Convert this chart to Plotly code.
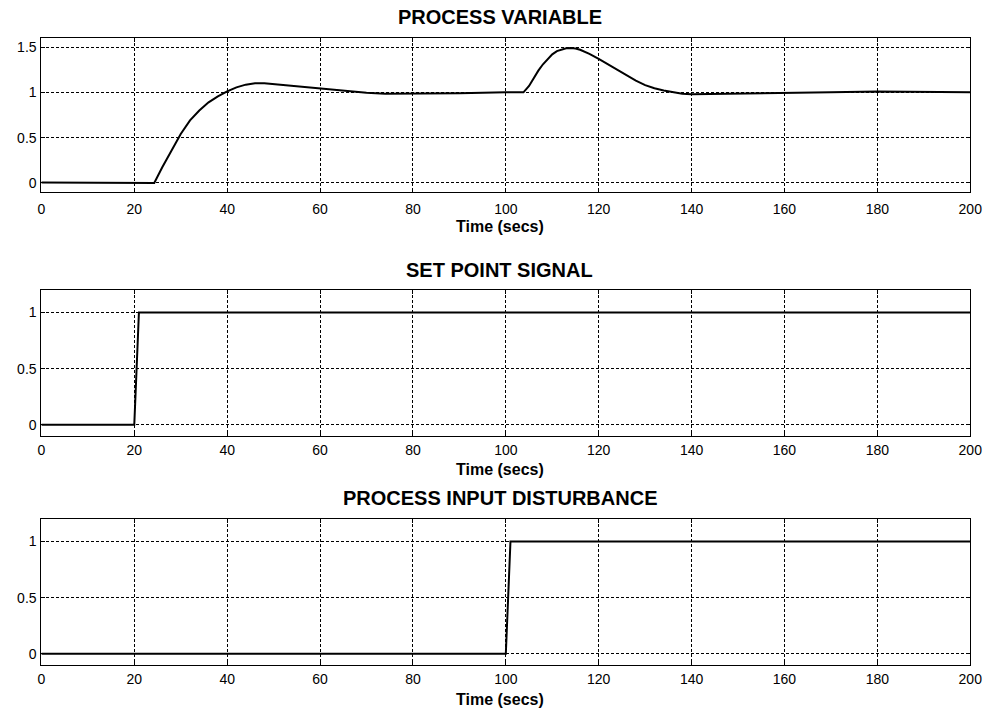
import plotly.graph_objects as go

W, H = 997, 708

# Process variable response (closed loop): set-point step at 20 s, input disturbance at 100 s
pv_time = [0, 10, 20, 24.3, 26, 28, 30, 32, 34, 36, 38, 40, 42, 44, 46, 48, 50, 54, 58, 62,
           66, 70, 74, 80, 90, 100, 103.8, 105, 106, 107, 108, 109, 110, 111, 112, 113, 114,
           115, 116, 118, 120, 122, 124, 126, 128, 130, 132, 134, 136, 138, 140, 150, 160,
           170, 180, 190, 200]
pv_value = [0.005, 0.0, 0.0, 0.0, 0.17, 0.36, 0.54, 0.69, 0.80, 0.89, 0.955, 1.01, 1.055, 1.085,
            1.10, 1.10, 1.09, 1.07, 1.05, 1.03, 1.01, 0.995, 0.985, 0.985, 0.99, 1.0, 1.0,
            1.07, 1.16, 1.24, 1.31, 1.37, 1.42, 1.455, 1.475, 1.487, 1.49, 1.485, 1.47, 1.425,
            1.37, 1.31, 1.25, 1.19, 1.13, 1.08, 1.045, 1.02, 1.0, 0.985, 0.98, 0.985, 0.99,
            1.0, 1.01, 1.005, 1.0]

# Set point signal
sp_time = [0, 20, 21, 200]
sp_value = [0, 0, 1, 1]

# Process input disturbance
dist_time = [0, 100, 101, 200]
dist_value = [0, 0, 1, 1]

x_ticks = [0, 20, 40, 60, 80, 100, 120, 140, 160, 180, 200]
titles = ["PROCESS VARIABLE", "SET POINT SIGNAL", "PROCESS INPUT DISTURBANCE"]
xlabel = "Time (secs)"

# panel geometry in pixels (top, bottom), y ranges and text placement
panels = [
    dict(top=38, bottom=192, yrange=[-0.1, 1.6], yticks=[0, 0.5, 1, 1.5],
         title_y=17, label_y=227, standoff=4),
    dict(top=290, bottom=436, yrange=[-0.1, 1.2], yticks=[0, 0.5, 1],
         title_y=270, label_y=469, standoff=1),
    dict(top=519, bottom=665, yrange=[-0.1, 1.2], yticks=[0, 0.5, 1],
         title_y=498, label_y=699, standoff=1),
]
x_left, x_right = 38, 982

series = [(pv_time, pv_value), (sp_time, sp_value), (dist_time, dist_value)]

tick_font = dict(family="Liberation Sans Narrow, Arial Narrow, Liberation Sans, sans-serif",
                 size=14, color="black")
bold_font = "Liberation Sans, Arial, sans-serif"

fig = go.Figure()
layout = dict(
    width=W, height=H,
    margin=dict(l=0, r=0, t=0, b=0),
    paper_bgcolor="white", plot_bgcolor="white",
    showlegend=False,
    annotations=[],
)

for i, (p, (tx, ty)) in enumerate(zip(panels, series)):
    n = "" if i == 0 else str(i + 1)
    fig.add_trace(go.Scatter(x=tx, y=ty, mode="lines",
                             line=dict(color="black", width=2),
                             xaxis="x" + n, yaxis="y" + n, hoverinfo="skip"))
    axis_common = dict(
        showline=True, linecolor="black", linewidth=1, mirror="ticks",
        ticks="inside", ticklen=4, tickcolor="black", tickwidth=1,
        showgrid=True, gridcolor="black", gridwidth=1, griddash="3px,2px",
        zeroline=False, tickfont=tick_font,
    )
    layout["xaxis" + n] = dict(
        axis_common, domain=[x_left / W, x_right / W], range=[0, 200],
        tickvals=x_ticks, anchor="y" + n, ticklabelstandoff=p["standoff"],
    )
    layout["yaxis" + n] = dict(
        axis_common, domain=[1 - p["bottom"] / H, 1 - p["top"] / H],
        range=p["yrange"], tickvals=p["yticks"], anchor="x" + n,
        ticklabelstandoff=1,
    )
    layout["annotations"].append(dict(
        text="<b>%s</b>" % titles[i], xref="paper", yref="paper",
        x=504 / W, y=1 - p["title_y"] / H, showarrow=False,
        xanchor="center", yanchor="middle",
        font=dict(family=bold_font, size=20, color="black"),
    ))
    layout["annotations"].append(dict(
        text="<b>%s</b>" % xlabel, xref="paper", yref="paper",
        x=504 / W, y=1 - p["label_y"] / H, showarrow=False,
        xanchor="center", yanchor="middle",
        font=dict(family=bold_font, size=16, color="black"),
    ))

fig.update_layout(**layout)
fig.write_html("out.html")
